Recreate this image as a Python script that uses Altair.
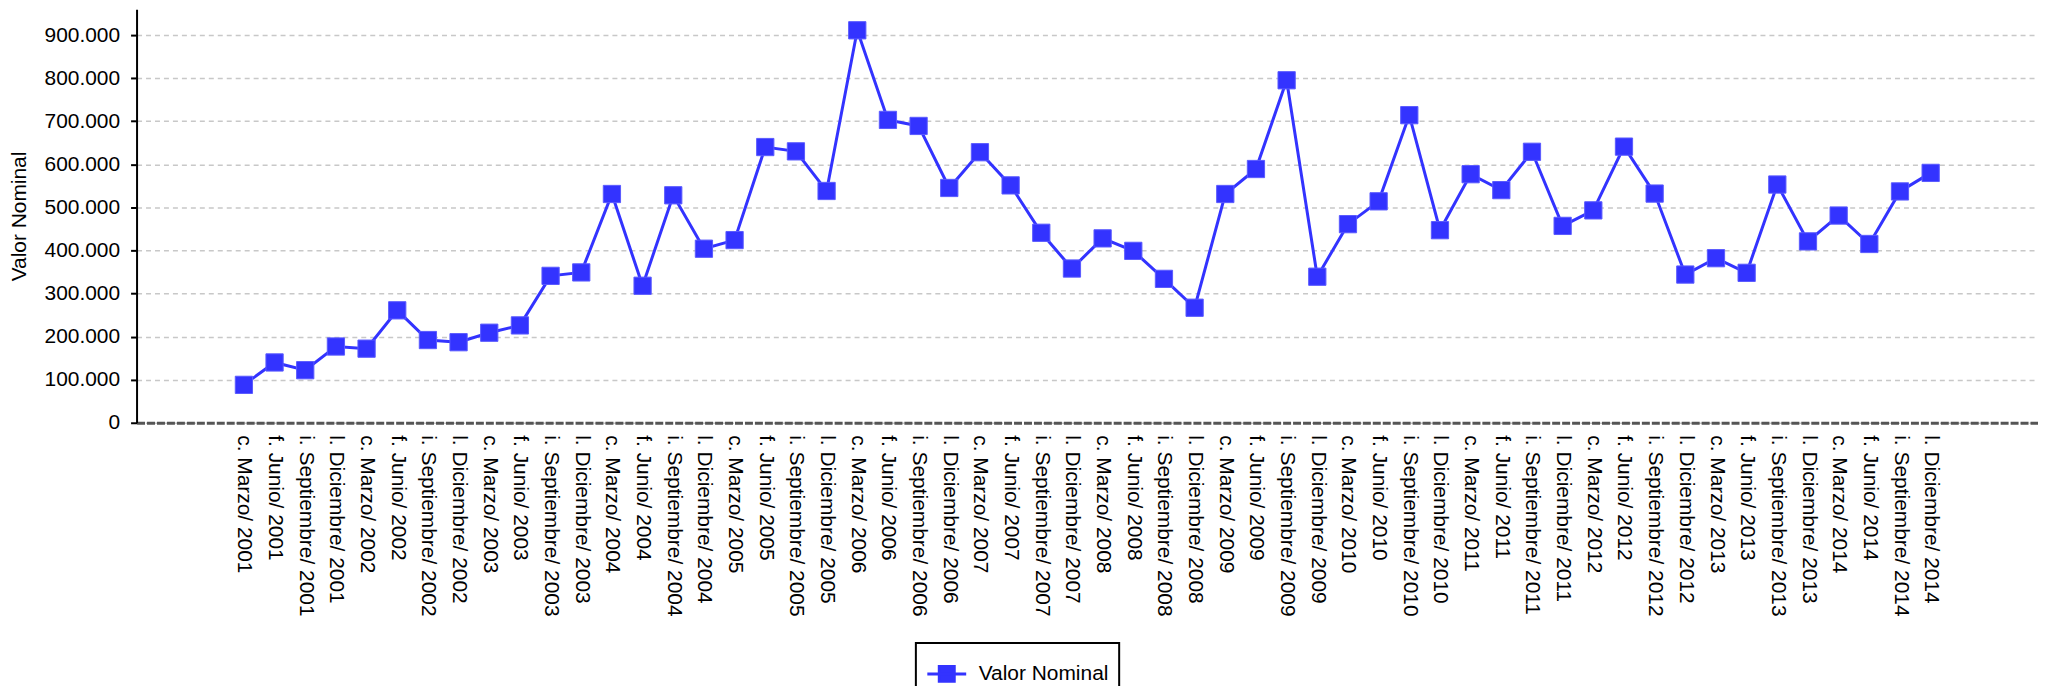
import json
import altair as alt
import pandas as pd

years = [str(y) for y in range(2001, 2015)]
quarters = ["c. Marzo", "f. Junio", "i. Septiembre", "l. Diciembre"]
categories = [f"{q}/ {y}" for y in years for q in quarters]

values = [
    88000, 140000, 122000, 177000,
    172000, 261000, 192000, 187000,
    209000, 226000, 341000, 349000,
    531000, 318000, 528000, 404000,
    424000, 640000, 630000, 538000,
    911000, 703000, 689000, 545000,
    628000, 551000, 441000, 358000,
    428000, 399000, 334000, 267000,
    531000, 589000, 795000, 339000,
    461000, 514000, 714000, 447000,
    577000, 540000, 629000, 457000,
    493000, 641000, 532000, 344000,
    382000, 348000, 553000, 421000,
    481000, 415000, 537000, 580000,
]
series_name = "Valor Nominal"
y_ticks = [0, 100000, 200000, 300000, 400000, 500000, 600000, 700000, 800000, 900000]

idx = list(range(len(categories)))
df = pd.DataFrame({"idx": idx, "periodo": categories, "valor": values, "serie": series_name})

BLUE = "#3333ff"
FONT = "Liberation Sans"
FS = 21

x_enc = alt.X(
    "idx:Q",
    scale=alt.Scale(domain=[-3.5, len(categories) - 1 + 3.5], nice=False, zero=False),
    axis=alt.Axis(
        title=None,
        values=idx,
        labelExpr=json.dumps(categories) + "[datum.value]",
        labelAngle=90,
        labelFontSize=FS,
        labelFont=FONT,
        labelColor="black",
        labelPadding=12,
        labelLimit=400,
        labelOverlap=False,
        labelFlush=False,
        ticks=False,
        grid=False,
        domainColor="#555555",
        domainWidth=3,
        domainDash=[8, 2],
    ),
)
y_enc = alt.Y(
    "valor:Q",
    scale=alt.Scale(domain=[0, 960000], nice=False, zero=True),
    axis=alt.Axis(
        title="Valor Nominal",
        titleFontSize=FS,
        titleFont=FONT,
        titleFontWeight="normal",
        titleColor="black",
        titlePadding=15,
        values=y_ticks,
        labelExpr="datum.value == 0 ? '0' : format(datum.value / 1000, 'd') + '.000'",
        labelFontSize=FS,
        labelFont=FONT,
        labelColor="black",
        labelPadding=11,
        tickSize=6,
        tickWidth=2,
        tickColor="black",
        domainColor="black",
        domainWidth=2,
        grid=True,
        gridColor="#c8c8c8",
        gridDash=[5, 4],
        gridWidth=1.5,
    ),
)

line = alt.Chart(df).mark_line(color=BLUE, strokeWidth=3).encode(x=x_enc, y=y_enc)

points = alt.Chart(df).mark_point(
    shape="square", filled=True, size=300, opacity=1, stroke="#5a5aff", strokeWidth=1
).encode(
    x=x_enc,
    y=y_enc,
    color=alt.Color(
        "serie:N",
        scale=alt.Scale(range=[BLUE]),
        legend=alt.Legend(
            title=None,
            orient="none",
            legendX=782,
            legendY=636,
            direction="vertical",
            symbolType="M-1,0H1M-0.385,-0.385H0.385V0.385H-0.385Z",
            symbolSize=1521,
            symbolFillColor=BLUE,
            symbolStrokeColor=BLUE,
            symbolStrokeWidth=3,
            labelFontSize=FS,
            labelFont=FONT,
            labelColor="black",
            labelOffset=11,
            padding=10,
            strokeColor="black",
        ),
    ),
)

chart = (
    alt.layer(line, points)
    .properties(
        width=1908,
        height=415,
        padding={"top": 0, "left": 0, "right": 0, "bottom": 0},
        background="white",
    )
    .configure_view(stroke=None)
    .configure_legend(strokeWidth=2)
)

chart.save("out.html", embed_options={"renderer": "svg", "actions": False})
